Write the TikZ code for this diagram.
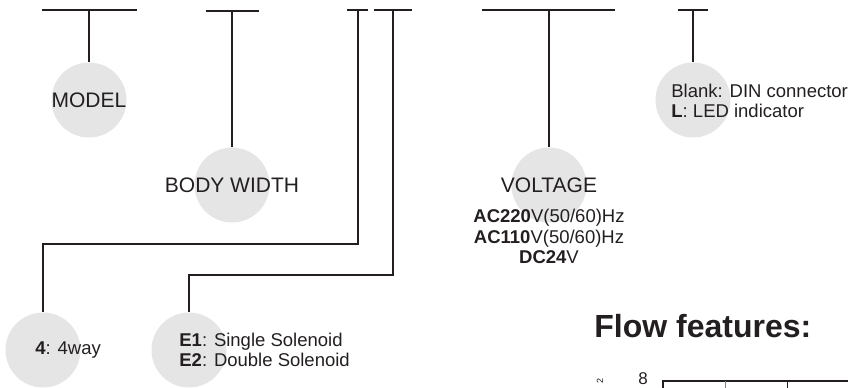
\documentclass[tikz,border=0pt]{standalone}
\usepackage{fontspec}
\setmainfont{Liberation Sans}
\usetikzlibrary{positioning}
\definecolor{ink}{HTML}{231F20}
\definecolor{discgray}{HTML}{E5E5E5}

\begin{document}
\begin{tikzpicture}[x=0.5pt,y=-0.5pt,
  disc/.style={circle,fill=discgray,minimum size=37.5pt,inner sep=0pt},
  bar/.style={line width=0.8pt,ink},
  lead/.style={line width=0.65pt,ink},
  big/.style={font=\fontsize{10.5}{12}\selectfont,text=ink,inner sep=0pt},
  small/.style={font=\fontsize{9.25}{10.25}\selectfont,text=ink,inner sep=0pt}]
\useasboundingbox (0,0) rectangle (848,387);

% discs
\node[disc] (model) at (89,100) {};
\node[disc] (width) at (232,185) {};
\node[disc] (volt) at (549,185) {};
\node[disc] (led) at (693,100) {};
\node[disc] (way) at (43,350) {};
\node[disc] (sol) at (189,350) {};

% bars on top
\draw[bar] (42,10) -- (137,10);
\draw[bar] (206,11) -- (259,11);
\draw[bar] (347,10) -- (368,10);
\draw[bar] (374,10) -- (412,10);
\draw[bar] (482,10) -- (615,10);
\draw[bar] (678,10) -- (708,10);
\coordinate (mtop) at (89,10);
\coordinate (btop) at (232,11);
\coordinate (wtop) at (358,10);
\coordinate (etop) at (393,10);
\coordinate (vtop) at (549,10);
\coordinate (ltop) at (693,10);

% leads
\draw[lead] (mtop) -- (model);
\draw[lead] (btop) -- (width);
\draw[lead] (vtop) -- (volt);
\draw[lead] (ltop) -- (led);
\draw[lead] (wtop) -- ++(0,234) -| (way);
\draw[lead] (etop) -- ++(0,265) -| (sol);

% texts
\node[big] (modeltxt) at (model) {MODEL};
\node[big] (widthtxt) at (width) {BODY WIDTH};
\node[big] (volttxt) at (volt) {VOLTAGE};
\node[small,align=center,anchor=north] (volts) at (549,209)
  {\textbf{AC220}V(50/60)Hz\\ \textbf{AC110}V(50/60)Hz\\ \textbf{DC24}V};
\node[small,align=left,anchor=west] (ledtxt) at (671,101)
  {Blank: DIN connector\\ \textbf{L}: LED indicator};
\node[small,anchor=west] (waytxt) at (35,350) {\textbf{4}: 4way};
\node[small,align=left,anchor=west] (soltxt) at (179,350)
  {\textbf{E1}: Single Solenoid\\ \textbf{E2}: Double Solenoid};

% flow chart (top edge only)
\node[font=\bfseries\fontsize{16}{19}\selectfont,text=ink,anchor=base west,inner sep=0pt] (flow) at (594,337) {Flow features:};
\draw[line width=1pt,ink] (850,381) -| (663,392);
\draw[line width=0.5pt,gray] (725,381) -- (725,392);
\draw[line width=0.5pt,ink] (787,381) -- (787,392);
\node[font=\fontsize{8.5}{10}\selectfont,text=ink,anchor=base,inner sep=0pt] (ytick) at (643,384) {8};
\node[font=\fontsize{4.5}{5}\selectfont,text=ink,rotate=90,inner sep=0pt] (yunit) at (600,381) {2};
\end{tikzpicture}
\end{document}
